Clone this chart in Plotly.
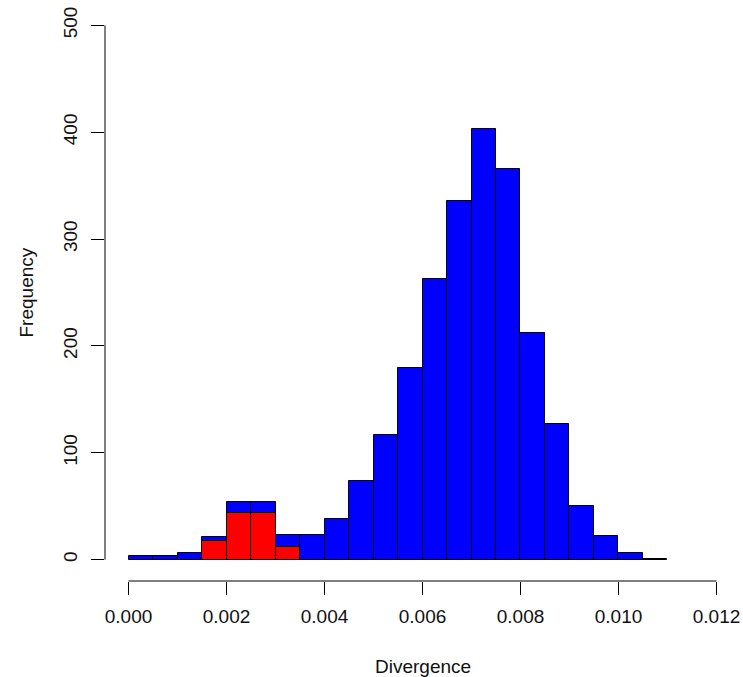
import plotly.graph_objects as go

bin_width = 0.0005
bin_starts = [i * 0.0005 for i in range(22)]
all_counts = [3, 3, 6, 21, 54, 54, 23, 23, 38, 74, 117, 179, 263, 336, 403, 366, 212, 127, 50, 22, 6, 1]
red_starts = [0.0015, 0.0020, 0.0025, 0.0030]
red_counts = [17, 44, 44, 12]
x_ticks = [0.0, 0.002, 0.004, 0.006, 0.008, 0.010, 0.012]
x_tick_labels = ["0.000", "0.002", "0.004", "0.006", "0.008", "0.010", "0.012"]
y_ticks = [0, 100, 200, 300, 400, 500]

fig = go.Figure()
fig.add_trace(go.Bar(
    x=[s + bin_width / 2 for s in bin_starts], y=all_counts, width=bin_width,
    marker=dict(color="#0000FF", line=dict(color="black", width=1)), showlegend=False))
fig.add_trace(go.Bar(
    x=[s + bin_width / 2 for s in red_starts], y=red_counts, width=bin_width,
    marker=dict(color="#FF0000", line=dict(color="black", width=1)), showlegend=False))

font = dict(family="Liberation Sans, Arial, sans-serif", size=19, color="#111111")
fig.update_layout(
    width=743, height=677, barmode="overlay", bargap=0,
    plot_bgcolor="white", paper_bgcolor="white",
    margin=dict(l=105, r=3, t=4, b=96),
    font=font,
    xaxis=dict(range=[-0.00048, 0.01248], tickvals=x_ticks, ticktext=x_tick_labels,
               showgrid=False, zeroline=False, showline=False,
               ticks="outside", ticklen=13, tickcolor="black", tickwidth=1,
               ticklabelstandoff=5, ticklabeloverflow="allow"),
    yaxis=dict(range=[-20, 520], tickvals=y_ticks, tickangle=-90,
               showgrid=False, zeroline=False, showline=False,
               ticks="outside", ticklen=13, tickcolor="black", tickwidth=1,
               ticklabelstandoff=6, ticklabeloverflow="allow"),
)
fig.add_shape(type="line", xref="x", yref="paper", x0=0, x1=0.012, y0=0, y1=0,
              line=dict(color="black", width=1))
fig.add_shape(type="line", xref="paper", yref="y", x0=0, x1=0, y0=0, y1=500,
              line=dict(color="black", width=1))
fig.add_annotation(text="Divergence", xref="paper", yref="paper", x=0.5, y=0,
                   xanchor="center", yanchor="middle", yshift=-85, showarrow=False,
                   font=font)
fig.add_annotation(text="Frequency", xref="paper", yref="paper", x=0, y=0.5,
                   xanchor="center", yanchor="middle", xshift=-79, textangle=-90,
                   showarrow=False, font=font)
fig.write_html("out.html", config={"displayModeBar": False},
               post_script="document.body.style.margin='0';document.body.style.overflow='hidden';")
